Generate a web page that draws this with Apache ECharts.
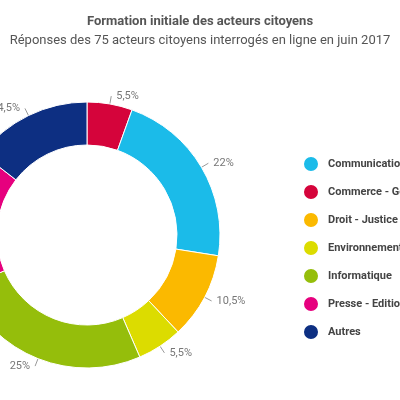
<!DOCTYPE html><html><head><meta charset="utf-8"><script src="https://cdn.jsdelivr.net/npm/echarts@6/dist/echarts.min.js"></script></head><body style="margin:0"><div id="c" style="width:400px;height:400px"></div><script>
const categories=["Commerce - Gestion","Communication","Droit - Justice","Environnement","Informatique","Presse - Edition","Autres"];
const values=[5.5,22,10.5,5.5,25,17,14.5];
const labels=["5,5%","22%","10,5%","5,5%","25%","","14,5%"];
const legendOrder=["Communication","Commerce - Gestion","Droit - Justice","Environnement","Informatique","Presse - Edition","Autres"];
const colors=["#d5043b","#1bbbe9","#fbb900","#dcdc00","#95be0b","#e6007e","#0d2f82"];
const ch=echarts.init(document.getElementById('c'));
ch.setOption({
title:{text:"Formation initiale des acteurs citoyens",subtext:"Réponses des 75 acteurs citoyens interrogés en ligne en juin 2017",left:'center',top:10,itemGap:6,
textStyle:{fontFamily:'Roboto',fontSize:13,fontWeight:'bold',color:'#555'},subtextStyle:{fontFamily:'Roboto',fontSize:13,color:'#555'}},
legend:{data:legendOrder,orient:'vertical',left:297,top:150,itemGap:10,icon:'circle',itemWidth:16,itemHeight:16,
textStyle:{fontFamily:'Roboto',fontSize:11,fontWeight:'bold',color:'#444',padding:[0,0,0,4]}},
series:[{type:'pie',center:[87,235],radius:[90,133],startAngle:90,clockwise:true,
itemStyle:{borderColor:'#fff',borderWidth:1},
label:{show:true,overflow:'none',fontFamily:'Roboto',fontSize:11,color:'#777',formatter:p=>labels[p.dataIndex]},
labelLine:{show:true,length:8,length2:0,lineStyle:{color:'#999'}},
data:categories.map((n,i)=>({name:n,value:values[i],itemStyle:{color:colors[i]},labelLine:{show:labels[i]!==''}}))}]
});
</script></body></html>
